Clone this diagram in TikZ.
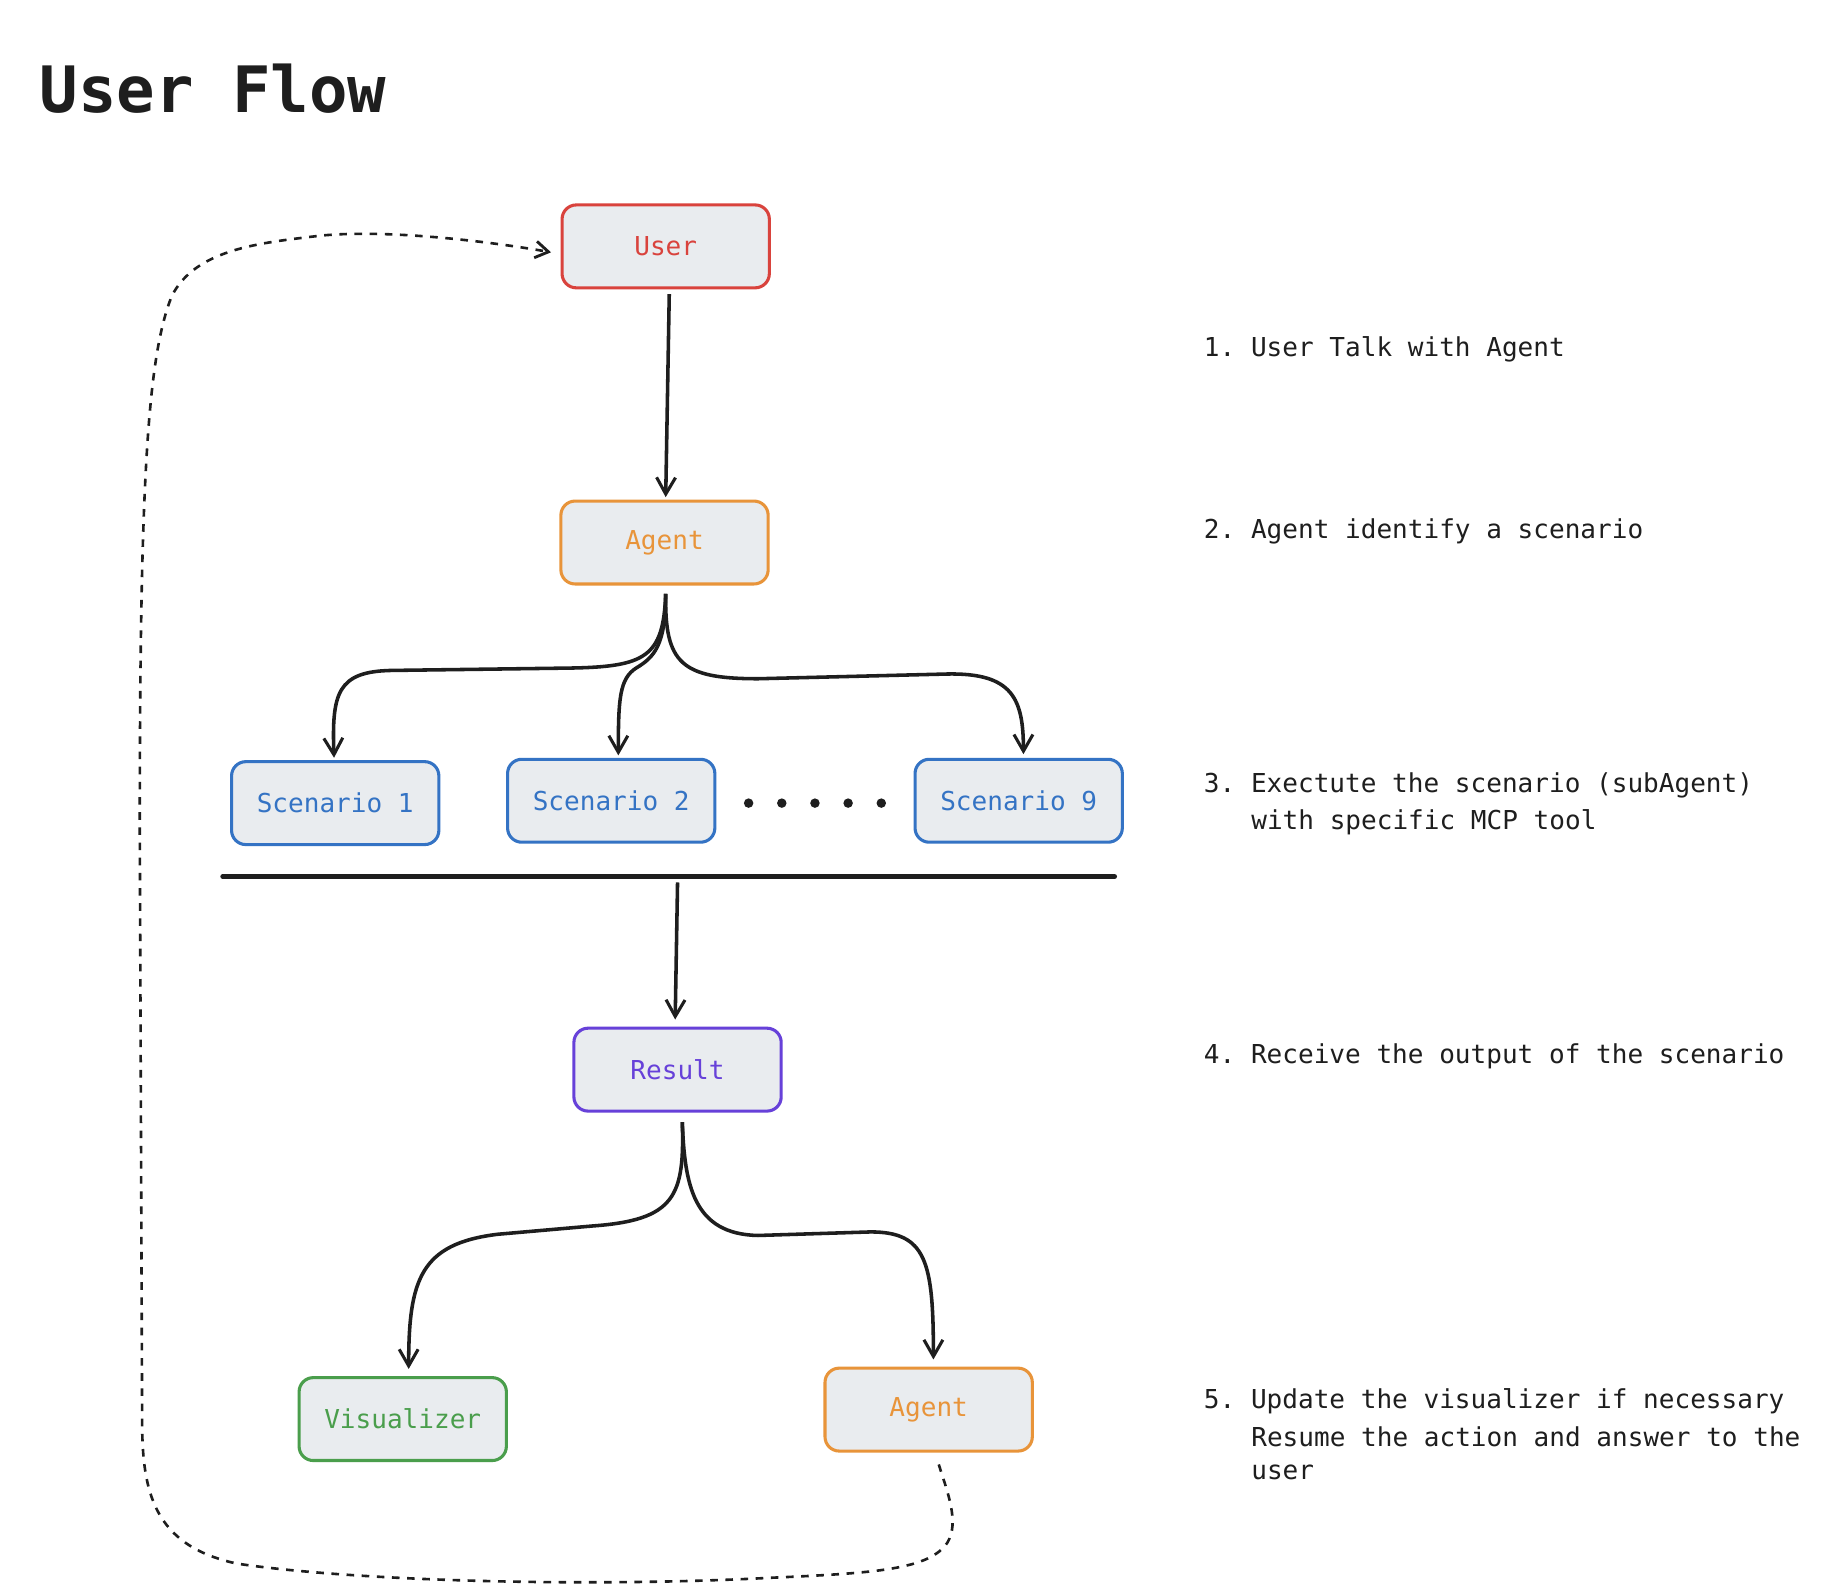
\documentclass[tikz,border=0pt]{standalone}
\usepackage{fontspec}
\setmonofont{DejaVu Sans Mono}
\usetikzlibrary{arrows.meta}
\definecolor{cred}{HTML}{D9433D}
\definecolor{corange}{HTML}{E8943A}
\definecolor{cblue}{HTML}{3473C4}
\definecolor{cpurple}{HTML}{6741D9}
\definecolor{cgreen}{HTML}{4A9E4C}
\definecolor{cfill}{HTML}{E9ECEF}
\definecolor{cink}{HTML}{1E1E1E}
\tikzset{
  box/.style={draw, fill=cfill, line width=1.3pt, rounded corners=6pt,
    minimum width=87.5pt, minimum height=35pt, inner sep=0pt,
    font=\ttfamily\fontsize{11pt}{13pt}\selectfont},
  note/.style={anchor=west, inner sep=0pt, text=cink,
    font=\ttfamily\fontsize{11pt}{13pt}\selectfont},
  flow/.style={draw=cink, line width=1.5pt,
    -{Straight Barb[length=7pt,width=8pt,line width=1.3pt]}},
  loopline/.style={draw=cink, line width=1.1pt, dash pattern=on 3.2pt off 3.2pt,
    -{Straight Barb[length=5.5pt,width=7pt,line width=1.2pt]}}
}
\begin{document}
\begin{tikzpicture}[x=0.5pt,y=-0.5pt]
\useasboundingbox[fill=white] (0,0) rectangle (1550,1339);

% title
\node[anchor=base west, inner sep=0pt, text=cink,
  font=\ttfamily\bfseries\fontsize{27pt}{30pt}\selectfont] (title) at (33,95) {User Flow};

% boxes
\node[box, draw=cred, text=cred] (user) at (562,208) {User};
\node[box, draw=corange, text=corange] (agent) at (561,458) {Agent};
\node[box, draw=cblue, text=cblue] (s1) at (283,678) {Scenario 1};
\node[box, draw=cblue, text=cblue] (s2) at (516,676) {Scenario 2};
\node[box, draw=cblue, text=cblue] (s9) at (860,676) {Scenario 9};
\node[box, draw=cpurple, text=cpurple] (result) at (572,903) {Result};
\node[box, draw=cgreen, text=cgreen] (vis) at (340,1198) {Visualizer};
\node[box, draw=corange, text=corange] (agent2) at (784,1190) {Agent};

% dots
\foreach \i/\x in {1/632,2/660,3/688,4/716,5/744}
  \fill[cink] (\x,678) circle[radius=4] coordinate (dot\i);

% separator line
\coordinate (lineL) at (188,740);
\coordinate (lineR) at (941,740);
\coordinate (bus) at (572,745);
\draw[cink, line width=2pt, line cap=round] (lineL) -- (lineR);

% connectors
\draw[flow] ([xshift=1.5pt,yshift=-2pt]user.south) -- ([xshift=0.5pt,yshift=1pt]agent.north);

\draw[flow] ([xshift=0.5pt,yshift=-3.5pt]agent.south)
  .. controls (560,555) and (545,563) .. (480,564) -- (330,566)
  .. controls (285,567) and (280,585) .. ([xshift=-0.5pt,yshift=1pt]s1.north);
\draw[flow] ([xshift=0.5pt,yshift=-3.5pt]agent.south)
  .. controls (562,545) and (552,555) .. (537,564)
  .. controls (523,573) and (522,590) .. ([xshift=3pt,yshift=1pt]s2.north);
\draw[flow] ([xshift=0.5pt,yshift=-3.5pt]agent.south)
  .. controls (561,560) and (575,573) .. (640,573) -- (800,569)
  .. controls (855,568) and (864,590) .. ([xshift=2pt,yshift=1.5pt]s9.north);

\draw[flow] (bus) -- ([xshift=-1pt,yshift=3pt]result.north);

\draw[flow] ([xshift=2pt,yshift=-4pt]result.south)
  .. controls (578,1010) and (570,1030) .. (500,1035) -- (420,1042)
  .. controls (355,1050) and (345,1080) .. ([xshift=2.5pt,yshift=3pt]vis.north);
\draw[flow] ([xshift=2pt,yshift=-4pt]result.south)
  .. controls (578,1000) and (585,1042) .. (640,1043) -- (735,1040)
  .. controls (782,1040) and (788,1065) .. ([xshift=2pt,yshift=3pt]agent2.north);

\draw[loopline] ([xshift=4.25pt,yshift=-5pt]agent2.south)
  .. controls (800,1260) and (810,1285) .. (800,1302)
  .. controls (785,1325) and (740,1328) .. (650,1332)
  .. controls (500,1340) and (300,1335) .. (200,1320)
  .. controls (130,1305) and (120,1260) .. (120,1200)
  -- (118,700)
  .. controls (118,400) and (125,300) .. (145,250)
  .. controls (165,210) and (220,205) .. (270,199)
  .. controls (330,193) and (420,205) .. ([xshift=-4pt,yshift=-2.5pt]user.west);

% notes
\node[note] (n1) at (1016,295) {1. User Talk with Agent};
\node[note] (n2) at (1016,449) {2. Agent identify a scenario};
\node[note] (n3a) at (1016,663) {3. Exectute the scenario (subAgent)};
\node[note] (n3b) at (1056,694) {with specific MCP tool};
\node[note] (n4) at (1016,892) {4. Receive the output of the scenario};
\node[note] (n5a) at (1016,1183) {5. Update the visualizer if necessary};
\node[note] (n5b) at (1056,1213) {Resume the action and answer to the};
\node[note] (n5c) at (1056,1243) {user};
\end{tikzpicture}
\end{document}
